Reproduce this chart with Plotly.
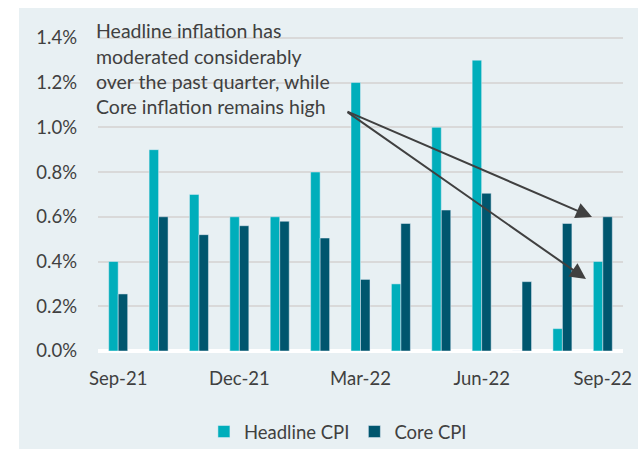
import plotly.graph_objects as go

months = ['Sep-21', 'Oct-21', 'Nov-21', 'Dec-21', 'Jan-22', 'Feb-22', 'Mar-22',
          'Apr-22', 'May-22', 'Jun-22', 'Jul-22', 'Aug-22', 'Sep-22']
headline_cpi = [0.40, 0.90, 0.70, 0.60, 0.60, 0.80, 1.20, 0.30, 1.00, 1.30, 0.00, 0.10, 0.40]
core_cpi = [0.255, 0.60, 0.52, 0.56, 0.58, 0.505, 0.32, 0.57, 0.63, 0.705, 0.31, 0.57, 0.60]
tick_months = ['Sep-21', 'Dec-21', 'Mar-22', 'Jun-22', 'Sep-22']
y_ticks = [0, 0.2, 0.4, 0.6, 0.8, 1.0, 1.2, 1.4]

note_lines = ['Headline inflation has', 'moderated considerably',
              'over the past quarter, while', 'Core inflation remains high']

TEXT = '#404040'
FONT = 'Lato'

fig = go.Figure()
fig.add_bar(x=months, y=headline_cpi, name='Headline CPI', marker_color='#00AEBB')
fig.add_bar(x=months, y=core_cpi, name='Core CPI', marker_color='#00566E')

# light panel behind everything
fig.add_shape(type='rect', xref='paper', yref='paper', x0=-0.1505, x1=1.1, y0=-0.4, y1=1.082,
              fillcolor='#E8F0F3', line_width=0, layer='below')

# annotation text, one line each
for i, line in enumerate(note_lines):
    fig.add_annotation(text=line, xref='paper', yref='paper', x=-0.008, y=1.0095 - i * 0.0795,
                       xanchor='left', yanchor='middle', showarrow=False,
                       font=dict(family=FONT, size=19.5, color=TEXT))

# two arrows from the text block
for x_end, y_end, ax, ay in [(0.941, 0.4227, -246, -106), (0.9295, 0.227, -240, -168)]:
    fig.add_annotation(x=x_end, y=y_end, xref='paper', yref='paper', ax=ax, ay=ay,
                       showarrow=True, arrowhead=2, arrowsize=1.6, arrowwidth=2,
                       arrowcolor=TEXT, text='')

fig.update_layout(
    width=638, height=449,
    margin=dict(l=98, r=15, t=34, b=98, autoexpand=False),
    paper_bgcolor='white',
    plot_bgcolor='#E8F0F3',
    barmode='group', bargap=0.53, bargroupgap=0,
    font=dict(family=FONT, size=18.5, color=TEXT),
    showlegend=True,
    legend=dict(orientation='h', x=0.457, xanchor='center', y=-0.2555, yanchor='middle',
                bgcolor='rgba(0,0,0,0)', font=dict(size=18.5, color=TEXT)),
    xaxis=dict(type='category', tickmode='array', tickvals=tick_months, ticktext=tick_months,
               showgrid=False, ticks='', ticklabelstandoff=14,
               tickfont=dict(size=18.5, color=TEXT)),
    yaxis=dict(range=[0, 1.417], tickmode='array', tickvals=y_ticks,
               ticktext=[f'{v:.1f}%' for v in y_ticks],
               showgrid=True, gridcolor='#D9D9D9', gridwidth=1.5,
               zeroline=True, zerolinecolor='white', zerolinewidth=4,
               ticks='', ticklabelstandoff=20, tickfont=dict(size=18.5, color=TEXT)),
)

# drop the default page margin so the figure fills the window
fig.write_html('out.html', config={'displayModeBar': False},
               post_script="document.body.style.margin = '0';")
